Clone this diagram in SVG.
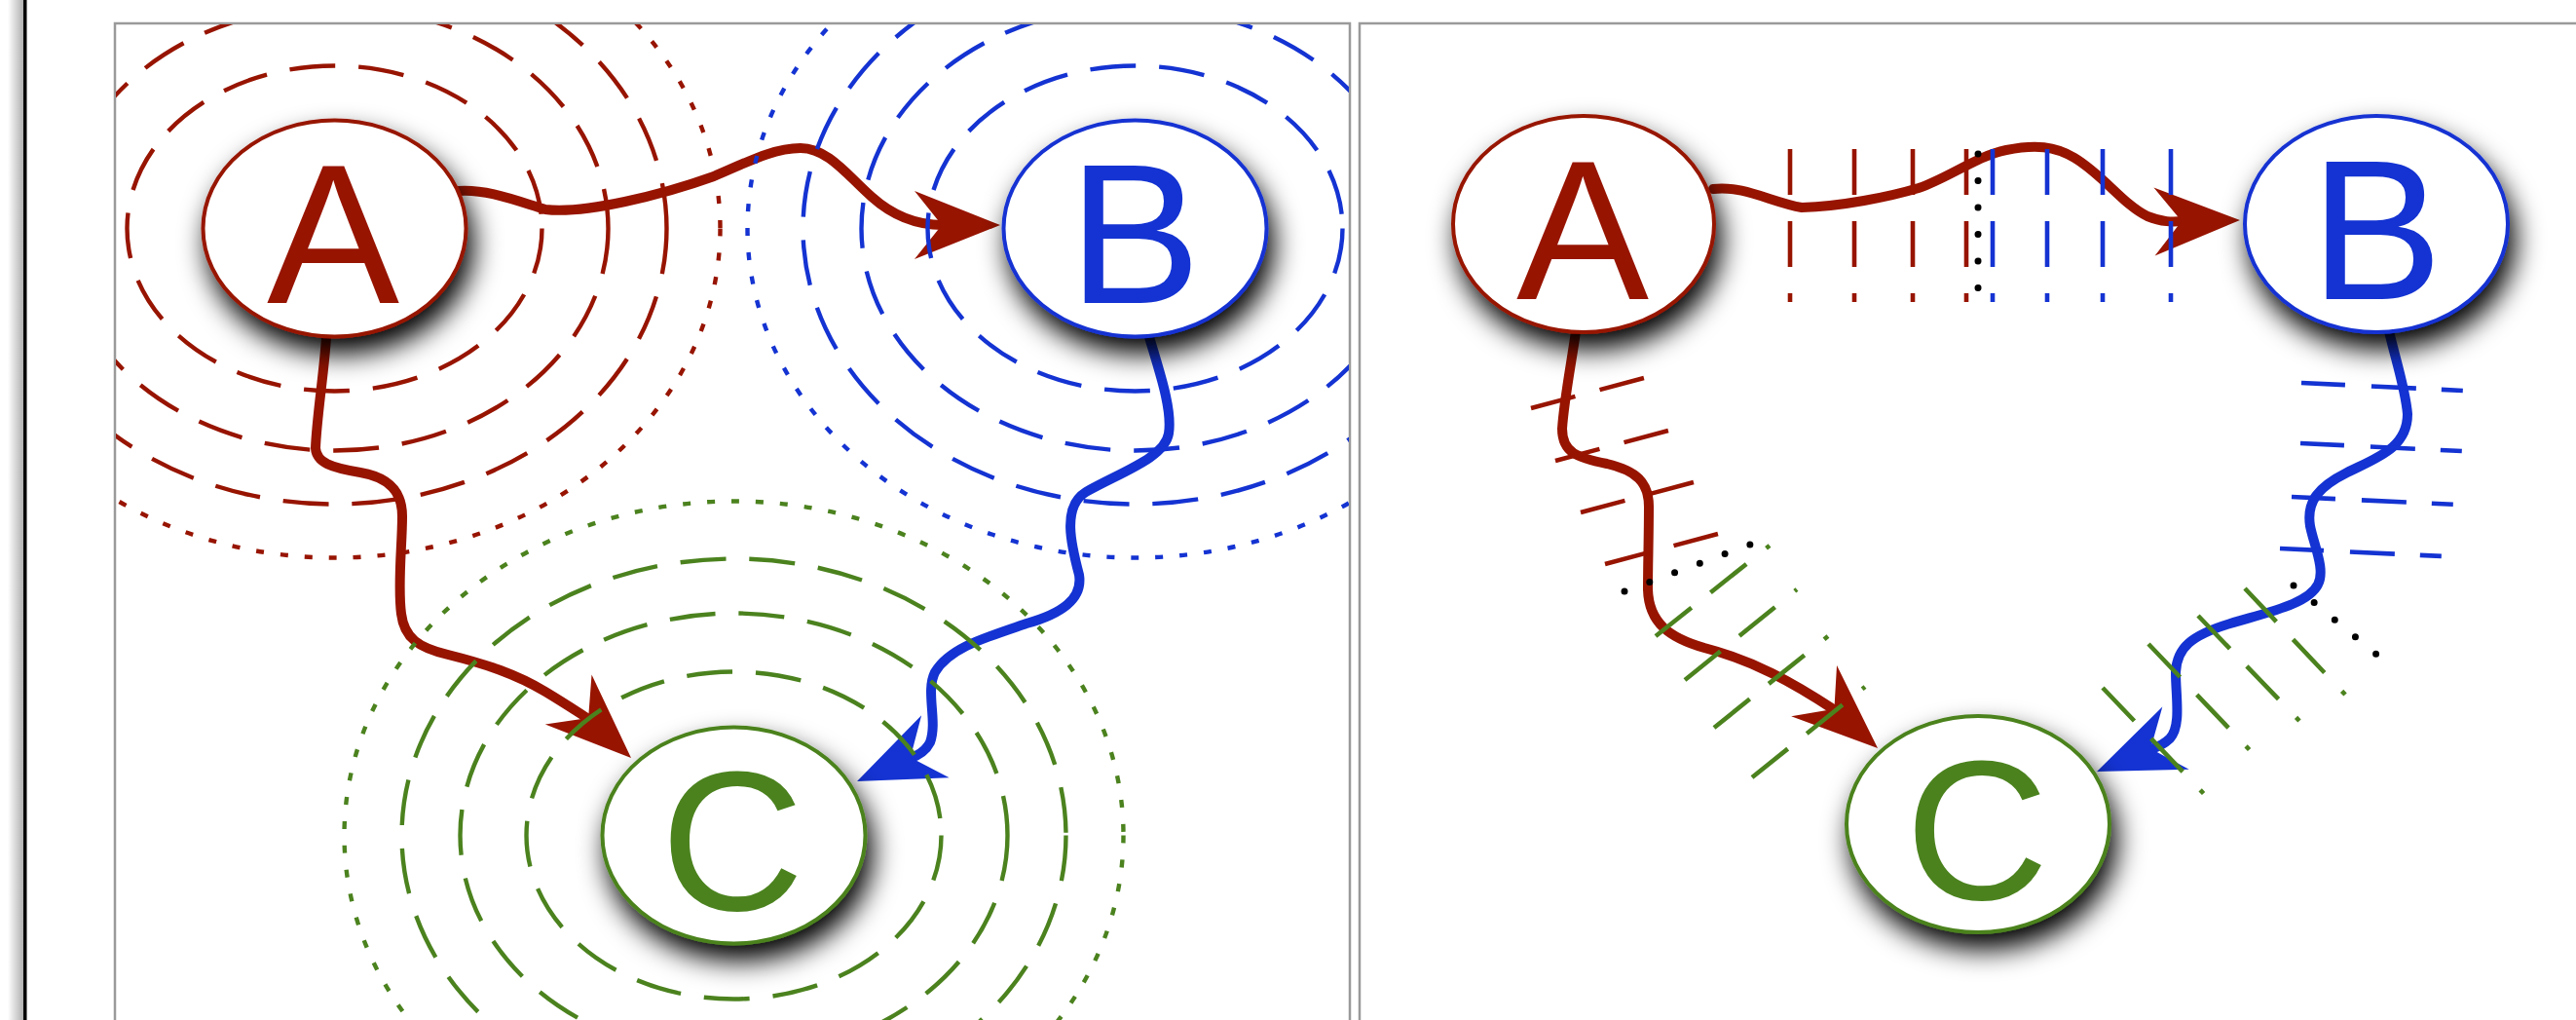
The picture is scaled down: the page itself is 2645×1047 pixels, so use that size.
<svg xmlns="http://www.w3.org/2000/svg" xmlns:xlink="http://www.w3.org/1999/xlink" width="2645" height="1047" viewBox="0 0 2645 1047">
<style>
.panel{fill:#fff;stroke:#9a9a9a;stroke-width:2.5}
.ring{fill:none;stroke-width:4.4}
.dash{stroke-dasharray:47 24}
.dot{stroke-dasharray:8 17}
.red{stroke:#971400}
.blue{stroke:#1433d2}
.green{stroke:#4b821e}
.edge{fill:none;stroke-width:10;stroke-linecap:round;stroke-linejoin:round}
.node{fill:#fff;stroke-width:4}
.lbl{font-family:"Liberation Sans",Arial,sans-serif;font-size:204px;text-anchor:middle}
.hash{fill:none;stroke-width:4.6}
.bdot{fill:none;stroke:#000;stroke-width:7;stroke-linecap:round;stroke-dasharray:0 27.5}
</style>
<defs>
<filter id="sh" x="-40%" y="-40%" width="180%" height="200%">
<feDropShadow dx="6" dy="16" stdDeviation="14" flood-color="#000" flood-opacity="1"/>
</filter>
<linearGradient id="fshade" x1="0" x2="1" y1="0" y2="0">
<stop offset="0" stop-color="#fff"/>
<stop offset="1" stop-color="#b0b0b0"/>
</linearGradient>
<clipPath id="clip1"><rect x="119" y="25" width="1266" height="1030"/></clipPath>
<path id="arr" d="M0,0 L-88,-35 L-60,0 L-88,35 Z"/>
</defs>
<rect width="2645" height="1047" fill="#fff"/>
<rect x="8" y="0" width="16" height="1047" fill="url(#fshade)"/>
<rect x="24" y="0" width="3.5" height="1047" fill="#000"/>
<rect class="panel" x="118" y="24" width="1268" height="1040"/>
<rect class="panel" x="1396" y="24" width="1270" height="1040"/>

<g id="connectors">
<path class="edge red" d="M471,196 C500,194 530,206 560,215 C600,220 680,200 733,181 C770,165 795,152 822,152 C850,152 870,180 895,202 C915,220 940,231 968,231"/>
<path class="edge red" d="M335,346 C333,380 325,430 324,460 C325,475 340,480 370,485 C400,490 413,505 413,530 C413,560 408,600 412,630 C415,655 430,665 460,672 C500,682 530,692 560,710 C580,722 595,732 606,739"/>
<path class="edge blue" d="M1180,346 C1190,380 1204,420 1200,445 C1196,470 1150,485 1115,505 C1090,520 1100,560 1108,590 C1112,615 1090,630 1054,640 C1010,655 975,665 960,690 C950,710 963,740 955,762 C950,772 942,776 933,779"/>
<use href="#arr" xlink:href="#arr" fill="#971400" transform="translate(1027,231)"/>
<use href="#arr" xlink:href="#arr" fill="#971400" transform="translate(648,778) rotate(43)"/>
<use href="#arr" xlink:href="#arr" fill="#1433d2" transform="translate(880,802) rotate(156)"/>

<path class="edge red" d="M1759,194 C1790,190 1820,208 1850,213 C1890,212 1940,202 1970,193 C2000,183 2030,160 2060,154 C2090,148 2110,150 2130,162 C2160,180 2180,210 2205,222 C2220,228 2230,228 2242,227"/>
<path class="edge red" d="M1618,340 C1614,370 1606,410 1604,440 C1604,465 1620,470 1650,476 C1680,483 1693,495 1693,520 C1693,550 1692,580 1692,605 C1693,640 1715,655 1750,665 C1800,678 1840,700 1884,729"/>
<path class="edge blue" d="M2453,340 C2460,370 2470,400 2472,425 C2472,460 2440,470 2410,485 C2380,500 2368,515 2372,540 C2376,560 2388,585 2380,600 C2370,620 2330,628 2290,640 C2250,652 2235,665 2234,690 C2234,715 2240,745 2228,758 C2222,764 2215,767 2208,769"/>
<use href="#arr" xlink:href="#arr" fill="#971400" transform="translate(2300,226) rotate(-1)"/>
<use href="#arr" xlink:href="#arr" fill="#971400" transform="translate(1928,768) rotate(42)"/>
<use href="#arr" xlink:href="#arr" fill="#1433d2" transform="translate(2153,792) rotate(157)"/>
</g>

<g id="rings" clip-path="url(#clip1)">
<ellipse class="ring red dash" cx="343.5" cy="234.5" rx="213" ry="167"/>
<ellipse class="ring red dash" cx="343.5" cy="234.5" rx="281" ry="228"/>
<ellipse class="ring red dash" cx="343.5" cy="234.5" rx="341" ry="283"/>
<ellipse class="ring red dot" cx="343.5" cy="234.5" rx="396" ry="338"/>
<ellipse class="ring blue dash" cx="1165.5" cy="234.5" rx="213" ry="167"/>
<ellipse class="ring blue dash" cx="1165.5" cy="234.5" rx="281" ry="228"/>
<ellipse class="ring blue dash" cx="1165.5" cy="234.5" rx="341" ry="283"/>
<ellipse class="ring blue dot" cx="1165.5" cy="234.5" rx="398" ry="338"/>
<ellipse class="ring green dash" cx="753.5" cy="857.5" rx="213" ry="168"/>
<ellipse class="ring green dash" cx="753.5" cy="857.5" rx="281" ry="228"/>
<ellipse class="ring green dash" cx="753.5" cy="857.5" rx="341" ry="284"/>
<ellipse class="ring green dot" cx="753.5" cy="857.5" rx="400" ry="343"/>
</g>

<g id="hatches">
<g class="hash red" style="stroke-dasharray:47 27">
<line x1="1838" y1="153" x2="1838" y2="310"/>
<line x1="1904" y1="153" x2="1904" y2="310"/>
<line x1="1964" y1="153" x2="1964" y2="310"/>
<line x1="2019" y1="153" x2="2019" y2="310"/>
</g>
<g class="hash blue" style="stroke-dasharray:47 27">
<line x1="2046" y1="153" x2="2046" y2="310"/>
<line x1="2102" y1="153" x2="2102" y2="310"/>
<line x1="2159" y1="153" x2="2159" y2="310"/>
<line x1="2229" y1="153" x2="2229" y2="310"/>
</g>
<line class="bdot" x1="2031" y1="158" x2="2031" y2="300"/>
<g class="hash red" style="stroke-dasharray:47 26">
<line x1="1572" y1="419" x2="1688" y2="388"/>
<line x1="1597" y1="473" x2="1713" y2="442"/>
<line x1="1623" y1="526" x2="1739" y2="495"/>
<line x1="1648" y1="579" x2="1764" y2="548"/>
</g>
<line class="bdot" x1="1668" y1="607" x2="1805" y2="556"/>
<g class="hash green" style="stroke-dasharray:47 25 47 26 5 100">
<line x1="1700" y1="653" x2="1817" y2="560"/>
<line x1="1730" y1="698" x2="1845" y2="605"/>
<line x1="1760" y1="747" x2="1877" y2="653"/>
<line x1="1799" y1="798" x2="1915" y2="705"/>
</g>
<g class="hash blue" style="stroke-dasharray:45 27 46 26 22 100">
<line x1="2363" y1="393" x2="2530" y2="401"/>
<line x1="2362" y1="455" x2="2528" y2="463"/>
<line x1="2353" y1="510" x2="2523" y2="518"/>
<line x1="2341" y1="563" x2="2509" y2="571"/>
</g>
<line class="bdot" x1="2355" y1="601" x2="2444" y2="675"/>
<g class="hash green" style="stroke-dasharray:47 25 47 26 5 100">
<line x1="2305" y1="604" x2="2409" y2="714"/>
<line x1="2257" y1="632" x2="2361" y2="740"/>
<line x1="2206" y1="661" x2="2311" y2="771"/>
<line x1="2159" y1="706" x2="2265" y2="817"/>
</g>
</g>

<g id="nodeA1">
<ellipse class="node red" cx="343.5" cy="234.5" rx="135" ry="111" filter="url(#sh)"/>
<text class="lbl" x="342" y="311" fill="#971400">A</text>
</g>
<g id="nodeB1">
<ellipse class="node blue" cx="1165.5" cy="234.5" rx="135" ry="111" filter="url(#sh)"/>
<text class="lbl" x="1165" y="311" fill="#1433d2">B</text>
</g>
<g id="nodeC1">
<ellipse class="node green" cx="753.5" cy="857.5" rx="135" ry="111" filter="url(#sh)"/>
<text class="lbl" x="752" y="934" fill="#4b821e">C</text>
</g>
<g id="nodeA2">
<ellipse class="node red" cx="1626" cy="230" rx="134" ry="111" filter="url(#sh)"/>
<text class="lbl" x="1625" y="307" fill="#971400">A</text>
</g>
<g id="nodeB2">
<ellipse class="node blue" cx="2440" cy="230" rx="135" ry="111" filter="url(#sh)"/>
<text class="lbl" x="2440" y="307" fill="#1433d2">B</text>
</g>
<g id="nodeC2">
<ellipse class="node green" cx="2031" cy="846" rx="135" ry="111" filter="url(#sh)"/>
<text class="lbl" x="2030" y="923" fill="#4b821e">C</text>
</g>
</svg>
